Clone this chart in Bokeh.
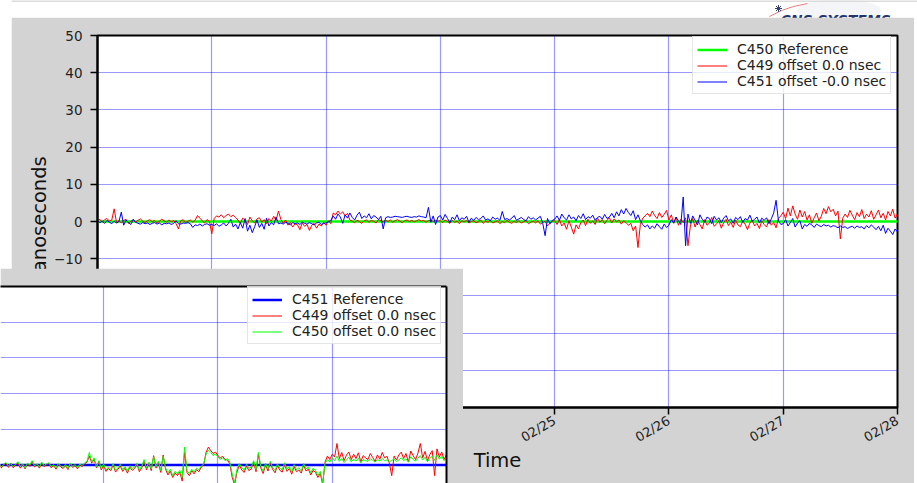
import math
import pandas as pd
from bokeh.plotting import figure
from bokeh.models import Range1d, FixedTicker, DatetimeTickFormatter, Span
from bokeh.embed import file_html
from bokeh.resources import INLINE
from bokeh.core.properties import value

# ---------------- data ----------------
main_start = "2021-02-21 00:00"
main_end = "2021-02-28 00:00"
day_ticks = ["2021-02-21", "2021-02-22", "2021-02-23", "2021-02-24",
             "2021-02-25", "2021-02-26", "2021-02-27", "2021-02-28"]
y_ticks = [-50, -40, -30, -20, -10, 0, 10, 20, 30, 40, 50]
sample_step = "30min"

# main chart: C450 is the reference, offsets of C449 and C451 (ns)
c450_reference = [0.0, 0.0]
c449_main = [
    0.3, 0.6, -0.2, 0.5, 0.8, 0.1, 0.4, 3.4, -0.3, 0.2,
    -0.4, 0.3, 0.6, -0.5, 0.1, 0.4, -0.2, 0.3, 0.7, 0.1,
    -0.3, 0.2, 0.5, -0.1, 0.3, -0.4, 0.1, 0.6, 0.2, -0.2,
    0.4, -0.1, 0.3, -0.6, -2.0, 0.2, 0.5, -0.3, 0.1, 0.4,
    -0.2, 0.3, 1.6, 0.9, 0.2, -0.4, 0.5, 0.1,
    -3.3, 0.8, 1.5, 1.2, 1.8, 1.0, 1.6, 2.0, 1.3, 1.7,
    1.1, 0.4, -0.5, 0.9, 0.3, -0.8, 1.2, 0.2, -0.4, 0.7,
    1.0, -0.2, 0.5, -0.6, 0.8, 0.1, 1.4, 0.3, 2.8, 0.6,
    -0.5, 0.4, -1.0, -0.3, -1.5, -0.6, -0.9, -2.2, -0.4, -1.3,
    -0.8, -2.4, -1.0, -0.5, -1.8, -0.7, -1.2, -0.3,
    -1.0, 0.2, -0.6, 2.3, 1.8, 2.8, 2.0, 2.6, 1.5, 2.2,
    0.4, 0.1, -0.3, 0.3, 0.0, -0.5, 0.2, 0.4, -0.2, 0.3,
    0.1, -0.4, 0.5, 0.2, -0.1, 0.3, 0.0, 0.4, -0.2, 0.2,
    0.5, 0.1, -0.3, 0.2, 0.4, 0.0, 0.3, -0.1, 0.2, 0.5,
    0.1, 0.3, -0.2, 0.2, 0.4, 0.0, 0.3, 0.1,
    0.2, -0.3, 0.4, 0.0, -0.5, 0.3, -0.2, 0.1, -0.6, 0.2,
    -0.1, 0.3, -0.4, 0.0, 0.2, -0.3, -0.1, 0.4, -0.5, 0.1,
    -0.2, 0.3, -0.4, -0.1, 0.2, -0.6, 0.0, -0.3, 0.3, -0.2,
    -0.5, 0.1, -0.3, 0.2, -0.4, -0.1, 0.3, -0.6, -0.2, 0.1,
    -0.4, 0.2, -0.7, -0.3, 0.1, -1.2, -0.5, 0.0,
    0.3, -0.8, 0.5, -1.2, -0.4, -2.1, 0.2, -1.5, -3.4, -0.9,
    -2.0, -0.3, 0.4, -1.1, 0.6, -0.5, 0.2, -0.8, 0.9, -0.2,
    0.5, -0.6, 0.3, 1.0, -0.4, 0.7, -0.1, 0.4, -0.7, 0.2,
    -0.3, -1.0, -0.5, -2.5, -1.2, -7.0, -0.8, 0.9, 1.5, 2.2,
    1.3, 2.8, 1.6, 0.8, 2.4, 1.1, 1.9, 3.0,
    0.4, 1.8, -0.5, 1.2, -1.0, 0.6, -0.3, 1.0, -6.5, -1.2,
    0.8, -1.5, 0.3, -0.8, -2.0, 0.5, -1.0, -0.4, 1.1, -1.3,
    -0.6, 0.2, -1.8, -0.3, 0.6, -1.1, -0.2, -1.6, 0.4, -0.9,
    -1.4, 0.1, -0.7, -2.2, -0.4, 0.3, -1.2, -0.5, -1.9, 0.2,
    -0.8, -1.5, 0.5, -1.0, -0.3, -1.7, 0.8, 1.5,
    2.5, 0.8, 3.6, 1.5, 4.2, 2.0, 0.6, 3.1, 1.2, 2.7,
    0.4, 1.8, -0.5, 1.0, 2.3, 0.2, 1.4, 3.5, 2.1, 4.0,
    2.6, 3.3, 1.5, 2.8, -4.7, 0.9, 2.0, 1.1, 3.0, 1.7,
    0.5, 2.4, 1.3, 3.2, 0.8, 2.0, 1.2, 2.9, 0.6, 1.8,
    3.1, 1.0, 2.2, 0.4, 2.7, 1.5, 3.3, 0.9, 2.0,
]
c451_main = [
    0.2, -0.3, 0.1, -0.5, 0.3, -0.2, -0.6, 0.1, -0.4, 0.0,
    2.5, -1.0, 0.4, -0.3, -0.8, 0.6, -0.2, -0.5, -0.7, -0.3,
    -0.6, -0.4, -0.8, -0.5, -0.3, -0.7, -0.4, -0.9, -0.5, -0.6,
    -0.4, -0.8, -0.5, 0.2, -0.6, -0.7, -0.4, -0.5, -0.3, -0.6,
    -1.6, -0.9, -1.1, -0.7, -1.2, -0.8, -0.6, -1.0,
    -0.8, -1.1, -0.6, -1.3, -0.9, -0.4, -1.2, -0.5, 0.6, -1.5,
    -0.7, -2.0, -0.3, -1.8, 0.8, -2.6, -1.0, -3.0, -1.4, 0.4,
    -1.6, -0.5, -2.1, 0.9, -1.2, -0.3, -0.9, 1.2, -0.6, -0.4,
    -0.7, -0.2, -0.5, -0.9, -0.3, -0.6, -0.4, -0.8, -0.2, -0.5,
    -0.7, -0.3, -0.6, -0.9, -0.4, -0.2, -0.8, -0.5,
    -0.4, -0.1, 0.3, 1.5, 0.6, 2.0, 1.2, -0.5, 1.8, 0.9,
    2.3, 1.1, 0.4, 1.7, 2.5, 0.8, 1.5, 1.0, 2.1, 0.7,
    1.6, 1.2, 0.5, 1.4, -2.0, 1.0, 1.3, 1.1, 1.2, 1.4,
    1.3, 1.2, 1.1, 1.3, 1.4, 1.2, 1.1, 1.3, 1.2, 1.5,
    1.3, 1.2, 1.0, 3.8, -0.2, 1.5, -0.8, 1.2,
    1.6, 0.4, 1.9, 0.8, -0.3, 1.2, 0.5, 1.8, 0.2, 1.0,
    0.6, 1.4, -0.2, 0.9, 0.3, 1.1, 0.5, 0.8, 1.5, 0.4,
    0.7, 0.2, 1.2, 0.6, 0.9, 0.3, 2.7, 0.5, 0.8, 0.4,
    0.9, 1.6, 0.3, 0.7, 1.1, 0.5, 0.2, 1.3, 0.6, 1.0,
    0.4, 0.9, 1.4, -0.5, -3.8, 0.8, -0.6, 0.3,
    0.6, 1.5, 0.3, 2.0, 1.0, 0.4, 1.8, 0.7, 1.2, 0.2,
    1.6, 0.8, 2.1, 0.5, 1.3, 0.9, 1.7, 0.3, 1.1, 1.4,
    0.6, 1.9, 0.8, 1.2, 2.2, 1.0, 2.6, 1.5, 3.2, 2.0,
    3.5, 2.4, 1.6, 2.9, 0.5, 1.8, 0.2, -0.8, -1.5, -0.9,
    -2.0, -1.2, -1.8, -0.6, -1.4, -2.1, -0.7, -1.6,
    -1.0, 0.5, -0.4, 1.2, 0.2, -0.8, 6.6, -6.5, 2.0, -0.5,
    1.5, 0.3, -0.9, 1.8, 0.6, -0.2, 1.2, 0.8, -0.6, 1.4,
    0.4, 1.0, -0.3, 0.9, 1.6, 0.2, 0.7, -0.5, 1.1, 0.5,
    1.3, -0.2, 0.8, 0.4, 1.7, 0.1, 0.6, 1.2, -0.4, 0.9,
    0.3, 1.0, -0.6, 0.7, 2.3, 5.7, 0.2, -0.8,
    -0.6, 0.5, -1.2, -0.3, 0.8, -1.5, -0.4, 0.2, -2.0, -0.8,
    -1.3, -0.5, -0.9, -1.6, -0.7, -1.1, -1.4, -0.8, -1.2, -1.0,
    -1.5, -1.1, -1.3, -1.7, -1.2, -1.6, -1.4, -1.9, -1.5, -1.3,
    -1.8, -1.2, -1.6, -1.4, -2.0, -1.1, -1.7, -0.9, -1.5, -2.2,
    -1.3, -2.5, -1.0, -3.2, -1.8, -2.6, -3.5, -2.0, -2.8,
]

# inset chart: C451 is the reference, offsets of C449 and C450 (ns)
inset_start = "2021-02-24 00:00"
c451_reference = [0.0, 0.0]
c450_inset = [
    0.2, -0.4, 0.5, -0.2, 0.3, -0.6, 0.1, 0.7, -0.3, 0.4,
    -0.5, 0.2, 0.9, -0.4, 0.3, -0.8, 0.5, 0.0, 1.2, -0.3,
    0.4, -0.6, 0.8, -0.2, 0.3, 0.6, -0.5, 0.1, -0.9, 0.4,
    -0.3, -0.7, 0.2, -1.0, 0.5, -0.4, 0.1, -0.8, 0.3, -0.2,
    0.6, 1.0, 3.5, 0.8, 2.0, -0.5, 1.2, -1.0, 0.3, -1.4,
    -0.6, -1.2, 0.4, -1.5, -0.8, 0.2, -1.3, -0.5, -1.8, -0.2,
    -1.0, -0.6, 0.5, -1.4, -0.4, 1.5, -0.9, 0.8, -1.1, 2.3,
    -0.5, 1.0, -1.6, 2.4, -0.8, -2.2, -1.2, -3.0, -1.8, -2.5,
    -1.5, -3.5, 5.0, -1.6, -2.4, -1.2, -2.0, -0.9, -1.4, -0.3,
    0.2, 3.0, 4.2, 3.5, 2.6, 3.1, 2.2, 1.6, 2.0, 1.2,
    1.8, 0.8, -2.5, -5.0, -1.2, 0.4, -0.8, -1.5, 0.2, -1.0,
    -0.6, 1.2, -1.3, 3.5, -0.4, -1.8, 0.5, -1.1, 1.0, -0.7,
    -1.6, 0.3, -0.9, -1.4, 0.6, -1.2, -0.5, -2.0, 0.1, -1.3,
    -0.8, -1.7, 0.4, -1.1, -0.6, -2.2, -0.9, -1.5, -3.0, -1.8,
    -5.0, 0.5, 1.5, 0.8, 2.0, 1.2, 2.5, 1.0, 1.8, 0.7,
    1.4, 2.2, 0.9, 1.6, 1.1, 1.9, 0.6, 1.5, 1.2, 1.0,
    1.7, 1.3, 0.8, 1.5, 1.1, 1.8, 1.2, 1.4, 0.9, 1.3,
    1.6, 1.0, 1.4, 2.0, 1.2, 1.7, 0.8, 2.3, 1.5, 1.1,
    1.9, 2.6, 1.4, 2.2, 0.9, 1.8, 2.5, 1.3, 2.8, 1.6,
    2.4, 1.2, 2.0,
]
c449_inset = [
    0.0, -0.6, 0.3, -0.5, 0.6, -0.9, 0.2, 0.4, -0.7, 0.5,
    -0.8, 0.0, 0.6, -0.9, 0.1, -1.1, 0.3, -0.4, 0.9, -0.6,
    0.2, -0.9, 0.5, -0.5, 0.0, 0.4, -0.8, -0.2, -1.2, 0.1,
    -0.6, -1.0, -0.1, -1.3, 0.2, -0.7, -0.2, -1.1, 0.0, -0.5,
    0.3, 0.8, 2.5, 0.5, 1.6, -0.8, 0.9, -1.4, -0.2, -1.8,
    -1.0, -1.6, 0.0, -2.0, -1.2, -0.3, -1.8, -0.9, -2.3, -0.6,
    -1.5, -1.0, 0.2, -1.9, -0.8, 1.0, -1.4, 0.5, -1.6, 2.6,
    -0.9, 0.6, -2.1, 2.8, -1.2, -2.8, -1.7, -3.5, -2.3, -3.0,
    -2.0, -4.5, 3.5, -2.1, -3.0, -1.6, -2.5, -1.3, -1.9, -0.6,
    0.0, 3.5, 5.0, 4.0, 3.2, 3.6, 2.6, 2.0, 2.4, 1.5,
    1.4, 0.3, -3.5, -5.5, -2.0, 0.0, -1.4, -2.1, -0.3, -1.6,
    -1.1, 0.8, -1.9, 3.0, -0.9, -2.4, 0.0, -1.7, 0.6, -1.3,
    -2.2, -0.2, -1.5, -2.0, 0.1, -1.8, -1.0, -2.6, -0.4, -1.9,
    -1.4, -2.3, -0.1, -1.7, -1.2, -2.8, -1.5, -2.1, -3.5, -2.4,
    -5.5, 0.8, 2.5, 1.5, 3.0, 2.2, 6.0, 1.8, 3.5, 1.2,
    2.8, 3.6, 1.5, 3.0, 1.8, 3.4, 0.9, 2.6, 2.0, 1.5,
    3.2, 2.1, 1.0, 2.8, 1.6, 3.5, 2.0, 2.4, 0.5, -3.0,
    2.5, 1.4, 2.8, 3.6, 1.8, 3.2, 0.8, 3.9, 2.6, 1.5,
    3.3, 6.0, 2.0, 3.8, 1.2, 2.9, 4.0, -3.0, 4.5, 2.2,
    3.6, 1.5, 3.0,
]

# ---------------- styling constants ----------------
FONT = "DejaVu Sans"
PANEL_GRAY = "#d3d3d3"
GRID_COLOR = "#0000ff"
PX_PER_DAY = 800 / 7.0

t_main = pd.date_range(main_start, periods=len(c449_main), freq=sample_step)
t_inset = pd.date_range(inset_start, periods=len(c450_inset), freq=sample_step)
t_ref_main = [pd.Timestamp(main_start), pd.Timestamp(main_end)]
t_ref_inset = [pd.Timestamp(inset_start), pd.Timestamp(main_end)]
tick_ms = [pd.Timestamp(d).value // 10**6 for d in day_ticks]
fmt = DatetimeTickFormatter(days="%m/%d", months="%m/%d", hours="%m/%d",
                            years="%m/%d", minutes="%m/%d")


def style_axis(ax, label_size="13.5px"):
    ax.axis_line_width = 2
    ax.axis_line_color = "black"
    ax.major_tick_line_width = 1.5
    ax.major_tick_line_color = "black"
    ax.major_tick_out = 7
    ax.major_tick_in = 0
    ax.minor_tick_line_color = None
    ax.major_label_text_font = FONT
    ax.major_label_text_font_size = label_size
    ax.major_label_text_color = "#222222"
    ax.axis_label_text_font = FONT
    ax.axis_label_text_font_size = "19.5px"
    ax.axis_label_text_font_style = "normal"
    ax.axis_label_text_color = "#111111"


def style_grid(p, xticker, yticker):
    for g, tk in ((p.xgrid[0], xticker), (p.ygrid[0], yticker)):
        g.ticker = tk
        g.grid_line_color = GRID_COLOR
        g.grid_line_alpha = 0.4
        g.grid_line_width = 1.2


def style_legend(lg, loc):
    lg.location = loc
    lg.label_text_font = FONT
    lg.label_text_font_size = "14px"
    lg.label_text_color = "#222222"
    lg.glyph_width = 30
    lg.glyph_height = 15
    lg.label_height = 15
    lg.label_standoff = 10
    lg.padding = 4
    lg.spacing = 0
    lg.margin = 0
    lg.border_line_color = "#cccccc"
    lg.border_line_width = 1.5
    lg.background_fill_alpha = 0.8


# ---------------- logo strip (behind) ----------------
logo = figure(width=906, height=30, x_range=Range1d(0, 906), y_range=Range1d(30, 0),
              output_backend="svg", toolbar_location=None, min_border=0,
              x_axis_location=None, y_axis_location=None, title=None)
logo.grid.visible = False
logo.outline_line_color = None
logo.background_fill_color = "white"
logo.border_fill_color = "white"
logo.add_layout(Span(location=0.5, dimension="width", line_color="#d0d0d0", line_width=1.5))
logo.ellipse(x=[828], y=[10], width=84, height=22, fill_color="#e6e8ee",
             fill_alpha=0.45, line_color=None)
logo.line(x=[758, 770, 782, 796], y=[16, 10, 6, 3], line_color="#e58080", line_width=1)
logo.scatter(x=[767], y=[8], marker="asterisk", size=7, line_color="#334070", line_width=1)
logo.text(x=[769], y=[19], text=["CNS SYSTEMS"], text_font=value(FONT),
          text_font_size="14px", text_font_style="bold italic", text_color="#23346a",
          text_baseline="alphabetic")
logo.styles = {"position": "absolute", "left": "11px", "top": "0px"}

# ---------------- main chart ----------------
p = figure(width=903, height=466, x_axis_type="datetime",
           x_range=Range1d(pd.Timestamp(main_start), pd.Timestamp(main_end)),
           y_range=Range1d(-50, 50), output_backend="svg", toolbar_location=None,
           min_border_left=86, min_border_right=17, min_border_top=18, min_border_bottom=76,
           title=None)
p.background_fill_color = "white"
p.border_fill_color = PANEL_GRAY
p.outline_line_color = "black"
p.outline_line_width = 2
main_xticker = FixedTicker(ticks=tick_ms)
main_yticker = FixedTicker(ticks=y_ticks)
p.xaxis.ticker = main_xticker
p.xaxis.formatter = fmt
p.yaxis.ticker = main_yticker
p.xaxis.major_label_orientation = math.pi / 6
p.xaxis.axis_label = "Time"
p.yaxis.axis_label = "Nanoseconds"
style_axis(p.xaxis[0], "13px")
style_axis(p.yaxis[0])
p.yaxis.major_label_standoff = 8
p.yaxis.axis_label_standoff = 0
p.xaxis.axis_label_standoff = -5
style_grid(p, main_xticker, main_yticker)

p.line(t_ref_main, c450_reference, line_color="#00ff00", line_width=2.5,
       legend_label="C450 Reference")
p.line(t_main, c449_main, line_color="#ff0000", line_width=1,
       legend_label="C449 offset 0.0 nsec")
p.line(t_main, c451_main, line_color="#0000ff", line_width=1,
       legend_label="C451 offset -0.0 nsec")
# legend anchored by its bottom-left corner, in px from the frame's bottom-left
style_legend(p.legend[0], (595, 313))
p.styles = {"position": "absolute", "left": "11px", "top": "17px"}

# ---------------- inset chart (on top) ----------------
inset_frame_w = 446
inset_x0 = pd.Timestamp(main_end) - pd.Timedelta(days=inset_frame_w / PX_PER_DAY)
q = figure(width=463, height=215, x_axis_type="datetime",
           x_range=Range1d(inset_x0, pd.Timestamp(main_end)),
           y_range=Range1d(-5.2, 50), output_backend="svg", toolbar_location=None,
           x_axis_location="above", y_axis_location="right",
           min_border_left=0, min_border_right=17, min_border_top=18, min_border_bottom=0,
           title=None)
q.background_fill_color = "white"
q.border_fill_color = PANEL_GRAY
q.outline_line_color = None
# the inset's own tick labels lie outside the screenshot: axes keep only their spines
q.xaxis.ticker = FixedTicker(ticks=[])
q.yaxis.ticker = FixedTicker(ticks=[])
for ax in (q.xaxis[0], q.yaxis[0]):
    style_axis(ax)
    ax.major_tick_line_color = None
    ax.major_label_standoff = 0
style_grid(q, FixedTicker(ticks=tick_ms), FixedTicker(ticks=y_ticks))

q.line(t_ref_inset, c451_reference, line_color="#0000ff", line_width=2.5,
       legend_label="C451 Reference")
q.line(t_inset, c449_inset, line_color="#ff0000", line_width=1,
       legend_label="C449 offset 0.0 nsec")
q.line(t_inset, c450_inset, line_color="#00ff00", line_width=1,
       legend_label="C450 offset 0.0 nsec")
style_legend(q.legend[0], (247, 139))
q.styles = {"position": "absolute", "left": "0px", "top": "268px"}

open("out.html", "w").write(file_html([logo, p, q], INLINE, title="offsets"))
